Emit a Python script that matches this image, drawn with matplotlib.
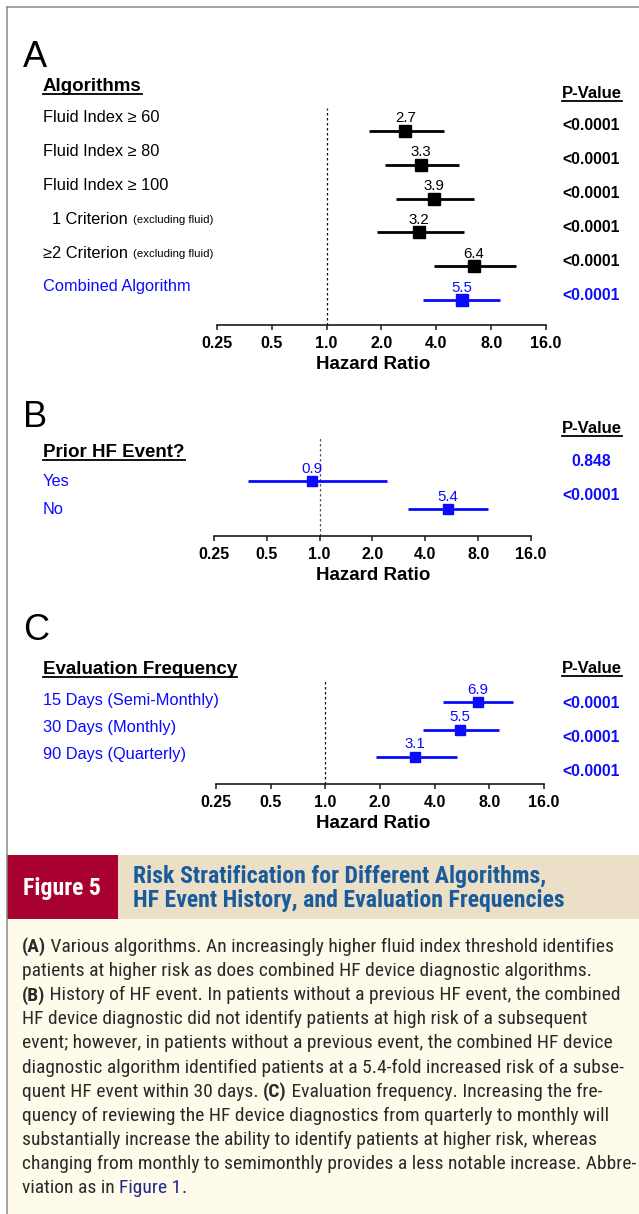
"""
Forest plots of hazard ratios (Figure 5) with caption block.
"""
import matplotlib
matplotlib.use('Agg')
import matplotlib.pyplot as plt
from matplotlib import font_manager
from matplotlib.font_manager import FontProperties
from matplotlib.lines import Line2D
from matplotlib.patches import Rectangle
from matplotlib.transforms import offset_copy, blended_transform_factory

W, H = 639, 1214

# ── data ───────────────────────────────────────────────────────────
algo_labels = ['Fluid Index ≥ 60', 'Fluid Index ≥ 80', 'Fluid Index ≥ 100',
               '1 Criterion', '≥2 Criterion', 'Combined Algorithm']
algo_notes = ['', '', '', '(excluding fluid)', '(excluding fluid)', '']
algo_hr = [2.7, 3.3, 3.9, 3.2, 6.4, 5.5]
algo_lo = [1.70, 2.08, 2.40, 1.90, 3.87, 3.40]
algo_hi = [4.39, 5.30, 6.40, 5.66, 10.9, 8.90]
algo_p = ['<0.0001', '<0.0001', '<0.0001', '<0.0001', '<0.0001', '<0.0001']

prior_labels = ['Yes', 'No']
prior_hr = [0.9, 5.4]
prior_lo = [0.39, 3.18]
prior_hi = [2.43, 9.10]
prior_p = ['0.848', '<0.0001']

freq_labels = ['15 Days (Semi-Monthly)', '30 Days (Monthly)', '90 Days (Quarterly)']
freq_hr = [6.9, 5.5, 3.1]
freq_lo = [4.47, 3.43, 1.91]
freq_hi = [10.8, 9.00, 5.30]
freq_p = ['<0.0001', '<0.0001', '<0.0001']

hr_ticks = [0.25, 0.5, 1, 2, 4, 8, 16]
hr_ticklabels = ['0.25', '0.5', '1.0', '2.0', '4.0', '8.0', '16.0']

caption_title = ['Risk Stratification for Different Algorithms,',
                 'HF Event History, and Evaluation Frequencies']
caption_lines = [
    [('(A)', 'b'), (' Various algorithms. An increasingly higher fluid index threshold identifies', 'n')],
    [('patients at higher risk as does combined HF device diagnostic algorithms.', 'n')],
    [('(B)', 'b'), (' History of HF event. In patients without a previous HF event, the combined', 'n')],
    [('HF device diagnostic did not identify patients at high risk of a subsequent', 'n')],
    [('event; however, in patients without a previous event, the combined HF device', 'n')],
    [('diagnostic algorithm identified patients at a 5.4-fold increased risk of a subse-', 'n')],
    [('quent HF event within 30 days. ', 'n'), ('(C)', 'b'), (' Evaluation frequency. Increasing the fre-', 'n')],
    [('quency of reviewing the HF device diagnostics from quarterly to monthly will', 'n')],
    [('substantially increase the ability to identify patients at higher risk, whereas', 'n')],
    [('changing from monthly to semimonthly provides a less notable increase. Abbre-', 'n')],
    [('viation as in ', 'n'), ('Figure 1', 'l'), ('.', 'n')],
]

# ── style ──────────────────────────────────────────────────────────
BLUE = '#0a0aff'
SANS = ['Liberation Sans', 'DejaVu Sans']


def pick(*names):
    for n in names:
        try:
            font_manager.findfont(n, fallback_to_default=False)
            return n
        except ValueError:
            continue
    return 'DejaVu Sans'


NARROW = pick('Liberation Sans Narrow', 'Roboto Condensed', 'Liberation Sans')

plt.rcParams['font.family'] = SANS

fig = plt.figure(figsize=(W / 100, H / 100), dpi=100)
fig.patch.set_facecolor('white')
renderer = fig.canvas.get_renderer()


def fy(y):
    return 1 - y / H


def text_width(s, size, weight='normal', family=SANS):
    prop = FontProperties(family=family, size=size, weight=weight)
    w1, _, _ = renderer.get_text_width_height_descent('I' + s + 'I', prop, ismath=False)
    w0, _, _ = renderer.get_text_width_height_descent('II', prop, ismath=False)
    return w1 - w0


def underlined(x, y, s, ha='left', size=13.5):
    t = fig.text(x / W, fy(y), s, ha=ha, va='baseline', fontsize=size,
                 fontweight='bold', color='black')
    bb = t.get_window_extent(renderer)
    fig.add_artist(Line2D([bb.x0 / W, bb.x1 / W], [fy(y + 3)] * 2,
                          color='black', lw=1.3, transform=fig.transFigure))


def forest(letter, header, labels, hr, lo, hi, pvals, lay, notes=None):
    x0, x1 = lay['x0'], lay['x1']
    ay, top, r0, st = lay['axis_y'], lay['top'], lay['row0'], lay['step']
    ax = fig.add_axes([x0 / W, fy(ay), (x1 - x0) / W, (ay - top) / H])
    ax.set_xscale('log', base=2)
    ax.set_xlim(hr_ticks[0], hr_ticks[-1])
    ax.set_ylim((ay - r0) / st, (top - r0) / st)
    ax.patch.set_alpha(0)
    for s in ('top', 'left', 'right'):
        ax.spines[s].set_visible(False)
    ax.spines['bottom'].set_color('#1a1a1a')
    ax.spines['bottom'].set_linewidth(1.2)
    ax.set_yticks([])
    ax.set_xticks(hr_ticks)
    ax.set_xticklabels(hr_ticklabels)
    ax.xaxis.set_minor_locator(matplotlib.ticker.NullLocator())
    ax.tick_params(axis='x', length=3.6, width=1.1, color='#1a1a1a', pad=4.5,
                   labelsize=11.5)
    for lab in ax.get_xticklabels():
        lab.set_fontweight('bold')
    ax.set_xlabel('Hazard Ratio', fontsize=13.5, fontweight='bold', labelpad=2)
    ax.xaxis.set_label_coords((373 - x0) / (x1 - x0), -lay['xlab'] / (ay - top))

    ax.axvline(1, color=lay['dash'], lw=0.9, ls=(0, (2, 2)))

    colors = lay['colors']
    for i in range(len(hr)):
        c = colors[i]
        ax.hlines(i, lo[i], hi[i], color=c, lw=2)
        ax.plot(hr[i], i, 's', ms=lay['ms'], color=c, mec=c)
        ax.annotate(f'{hr[i]:.1f}', (hr[i], i), xytext=(0, 9), textcoords='offset points',
                    ha='center', va='center', fontsize=10.8, color=c)

    # row labels
    trans = blended_transform_factory(fig.transFigure, ax.transData)
    for i, lab in enumerate(labels):
        lx = (43 + lay.get('indent', {}).get(i, 0)) / W
        t = ax.text(lx, i, lab, transform=offset_copy(trans, fig, y=lay['lab_off'], units='dots'),
                    ha='left', va='center', fontsize=11.8, color=colors[i], clip_on=False)
        if notes and notes[i]:
            bb = t.get_window_extent(renderer)
            ax.text((bb.x1 + 5) / W, i, notes[i],
                    transform=offset_copy(trans, fig, y=lay['lab_off'] - 1, units='dots'),
                    ha='left', va='center', fontsize=8.2, color=colors[i], clip_on=False)

    # headers, p-values, panel letter
    fig.text(23 / W, fy(lay['letter']), letter, fontsize=26, va='baseline', ha='left')
    underlined(43, lay['head'], header)
    underlined(592, lay['phead'], 'P-Value', ha='center', size=12)
    for i, p in enumerate(pvals):
        fig.text(591 / W, fy(lay['p0'] + 34 * i), p, ha='center', va='center',
                 fontsize=11.3, fontweight='bold', color=colors[i])
    return ax


lay_a = dict(x0=217, x1=546, axis_y=325, top=108, row0=131, step=33.8, lab_off=13,
             head=91, phead=98, p0=125, letter=67, ms=8, xlab=31,
             colors=['black'] * 5 + [BLUE], dash='#111111', indent={3: 9})
lay_b = dict(x0=214, x1=531, axis_y=536, top=438, row0=481, step=28, lab_off=0,
             head=457, phead=433, p0=462, letter=427, ms=7, xlab=31,
             colors=[BLUE] * 2, dash='#555555')
lay_c = dict(x0=216, x1=544, axis_y=784, top=680, row0=702, step=27.5, lab_off=2,
             head=674, phead=673, p0=703, letter=640, ms=7.8, xlab=31,
             colors=[BLUE] * 3, dash='#111111')

forest('A', 'Algorithms', algo_labels, algo_hr, algo_lo, algo_hi, algo_p, lay_a, notes=algo_notes)
forest('B', 'Prior HF Event?', prior_labels, prior_hr, prior_lo, prior_hi, prior_p, lay_b)
forest('C', 'Evaluation Frequency', freq_labels, freq_hr, freq_lo, freq_hi, freq_p, lay_c)

# ── frame and caption block ───────────────────────────────────────
fig.add_artist(Rectangle((7 / W, 0), 1 - 7 / W, fy(919), transform=fig.transFigure,
                         facecolor='#fffbeb', edgecolor='none', zorder=0))
fig.add_artist(Rectangle((7 / W, fy(919)), 1 - 7 / W, (919 - 855) / H, transform=fig.transFigure,
                         facecolor='#ebdfc8', edgecolor='none', zorder=0))
fig.add_artist(Rectangle((7 / W, fy(919)), (118 - 7) / W, (919 - 855) / H, transform=fig.transFigure,
                         facecolor='#a8002f', edgecolor='none', zorder=0))
fig.add_artist(Line2D([7 / W, 7 / W], [0, fy(7)], color='#8a8a8a', lw=1.1, transform=fig.transFigure))
fig.add_artist(Line2D([7 / W, 1], [fy(7), fy(7)], color='#8a8a8a', lw=1.1, transform=fig.transFigure))

# title band: fit the first title line to its width in the reference
tsize = 12 * 413 / text_width(caption_title[0], 12, 'bold', NARROW)
fig.text(62 / W, fy(888), 'Figure 5', ha='center', va='center', color='white',
         fontsize=tsize, fontweight='bold', family=NARROW)
for i, line in enumerate(caption_title):
    fig.text(133 / W, fy(876 + 24 * i), line, ha='left', va='center', color='#1a5c9b',
             fontsize=tsize, fontweight='bold', family=NARROW)

# caption body
ref = ''.join(s for s, _ in caption_lines[9])
csize = 11 * 610 / text_width(ref, 11, 'normal', NARROW)
run_color = {'n': '#2a2a2a', 'b': '#2a2a2a', 'l': '#20288c'}
for i, runs in enumerate(caption_lines):
    x = 22
    for s, kind in runs:
        wt = 'bold' if kind == 'b' else 'normal'
        fig.text(x / W, fy(947 + 24.1 * i), s, ha='left', va='center', fontsize=csize,
                 fontweight=wt, family=NARROW, color=run_color[kind])
        x += text_width(s, csize, wt, NARROW)

fig.savefig('out.png', dpi=100)
